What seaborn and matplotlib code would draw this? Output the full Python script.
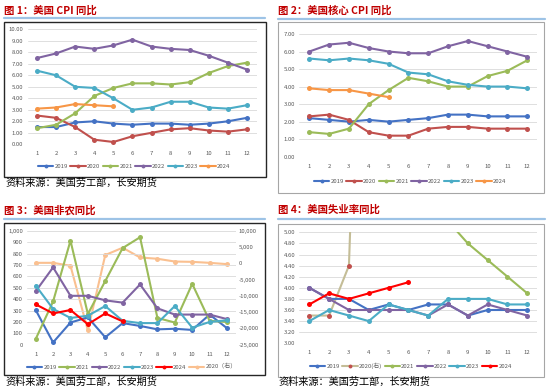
import numpy as np
import pandas as pd
import matplotlib
matplotlib.use('Agg')
import matplotlib.pyplot as plt
import seaborn as sns
from matplotlib.patches import Rectangle
from matplotlib.lines import Line2D
from matplotlib.ticker import FuncFormatter, MultipleLocator

sns.set_theme(style='white')
plt.rcParams['font.family'] = ['Noto Sans CJK SC', 'DejaVu Sans']

months = list(range(1, 13))

# Panel 1: CPI YoY
cpi_2019 = [1.5, 1.5, 1.9, 2.0, 1.8, 1.7, 1.8, 1.8, 1.7, 1.8, 2.0, 2.3]
cpi_2020 = [2.5, 2.3, 1.5, 0.4, 0.2, 0.7, 1.0, 1.3, 1.4, 1.2, 1.1, 1.3]
cpi_2021 = [1.4, 1.7, 2.7, 4.2, 4.9, 5.3, 5.3, 5.2, 5.4, 6.2, 6.8, 7.1]
cpi_2022 = [7.5, 7.9, 8.5, 8.3, 8.6, 9.1, 8.5, 8.3, 8.2, 7.7, 7.1, 6.5]
cpi_2023 = [6.4, 6.0, 5.0, 4.9, 4.0, 3.0, 3.2, 3.7, 3.7, 3.2, 3.1, 3.4]
cpi_2024 = [3.1, 3.2, 3.5, 3.4, 3.3]

# Panel 2: core CPI YoY
core_2019 = [2.2, 2.1, 2.0, 2.1, 2.0, 2.1, 2.2, 2.4, 2.4, 2.3, 2.3, 2.3]
core_2020 = [2.3, 2.4, 2.1, 1.4, 1.2, 1.2, 1.6, 1.7, 1.7, 1.6, 1.6, 1.6]
core_2021 = [1.4, 1.3, 1.6, 3.0, 3.8, 4.5, 4.3, 4.0, 4.0, 4.6, 4.9, 5.5]
core_2022 = [6.0, 6.4, 6.5, 6.2, 6.0, 5.9, 5.9, 6.3, 6.6, 6.3, 6.0, 5.7]
core_2023 = [5.6, 5.5, 5.6, 5.5, 5.3, 4.8, 4.7, 4.3, 4.1, 4.0, 4.0, 3.9]
core_2024 = [3.9, 3.8, 3.8, 3.6, 3.4]

# Panel 3: nonfarm payrolls (thousands); 2020 on right axis
nfp_2019 = [305, 20, 195, 240, 65, 190, 165, 135, 140, 130, 265, 145]
nfp_2021 = [50, 380, 915, 270, 560, 850, 945, 235, 195, 535, 210, 200]
nfp_2022 = [470, 680, 430, 430, 390, 370, 530, 320, 265, 265, 265, 225]
nfp_2023 = [520, 315, 235, 255, 340, 210, 190, 190, 340, 150, 200, 215]
nfp_2024 = [355, 275, 305, 180, 275, 205]
nfp_2020 = [200, 200, -700, -20600, 2600, 4850, 1850, 1450, 600, 500, 200, -200]

# Panel 4: unemployment rate
ur_2019 = [4.0, 3.8, 3.8, 3.6, 3.7, 3.6, 3.7, 3.7, 3.5, 3.6, 3.6, 3.6]
ur_2020 = [3.5, 3.5, 4.4, 14.8, 13.3, 11.1, 10.2, 8.4, 7.8, 6.9, 6.7, 6.7]
ur_2021 = [6.4, 6.2, 6.0, 6.1, 5.8, 5.9, 5.4, 5.2, 4.8, 4.5, 4.2, 3.9]
ur_2022 = [4.0, 3.8, 3.6, 3.6, 3.6, 3.6, 3.5, 3.7, 3.5, 3.7, 3.6, 3.5]
ur_2023 = [3.4, 3.6, 3.5, 3.4, 3.7, 3.6, 3.5, 3.8, 3.8, 3.8, 3.7, 3.7]
ur_2024 = [3.7, 3.9, 3.8, 3.9, 4.0, 4.1]

titles = ['图 1：美国 CPI 同比', '图 2：美国核心 CPI 同比', '图 3：美国非农同比', '图 4：美国失业率同比']
source = '资料来源：美国劳工部，长安期货'

C19, C20, C21, C22, C23, C24 = '#4472c4', '#c0504d', '#9bbb59', '#8064a2', '#4bacc6', '#f79646'

W, H = 550, 390
fig = plt.figure(figsize=(5.5, 3.9), dpi=100)
fig.patch.set_facecolor('white')


def fx(x):
    return x / W


def fy(y):
    return 1 - y / H


def make_axes(l, t, r, b):
    return fig.add_axes([l / W, 1 - b / H, (r - l) / W, (b - t) / H])


def frame(l, t, r, b, ec, lw):
    fig.add_artist(Rectangle((fx(l), fy(b)), (r - l) / W, (b - t) / H,
                             transform=fig.transFigure, fill=False, ec=ec, lw=lw))


def header(x0, x1, ytitle, yrule, text):
    fig.text(fx(x0), fy(ytitle), text, color='#c00000', fontsize=7.5,
             fontweight='bold', ha='left', va='center')
    fig.add_artist(Line2D([fx(x0), fx(x1)], [fy(yrule), fy(yrule)],
                          transform=fig.transFigure, color='#9dc3e6', lw=1.6))


def style_ax(ax, ylim, ystep, fmt):
    ax.set_xlim(0.5, 12.5)
    ax.set_ylim(*ylim)
    ax.set_xticks(months)
    ax.set_xticklabels([str(m) for m in months])
    ax.yaxis.set_major_locator(MultipleLocator(ystep))
    ax.yaxis.set_major_formatter(FuncFormatter(fmt))
    ax.grid(axis='y', color='#d9d9d9', lw=0.6)
    ax.grid(axis='x', visible=False)
    for s in ax.spines.values():
        s.set_visible(False)
    ax.tick_params(axis='both', length=0, labelsize=4.3, colors='#595959')
    ax.tick_params(axis='y', pad=3)
    ax.tick_params(axis='x', pad=5)
    ax.set_facecolor('none')
    ax.set_xlabel('')
    ax.set_ylabel('')


def draw(ax, vals, color, mfc=None, lw=1.5, ms=3.6):
    x = months[:len(vals)]
    sns.lineplot(x=x, y=vals, ax=ax, color=color, marker='o', markersize=ms,
                 markeredgewidth=0, markerfacecolor=mfc or color, linewidth=lw,
                 legend=False, errorbar=None)


def legend(items, cx, cy, fs=4.3):
    handles = [Line2D([0], [0], color=c, marker='o', markersize=2.8, markeredgewidth=0,
                      markerfacecolor=m or c, lw=1.5) for _, c, m in items]
    labels = [n for n, _, _ in items]
    fig.legend(handles, labels, loc='center', bbox_to_anchor=(fx(cx), fy(cy)),
               ncol=len(items), frameon=False, fontsize=fs, handlelength=2.6,
               columnspacing=0.4, handletextpad=0.2, labelcolor='#595959')


f2 = lambda v, p: f'{v:.2f}'
fc = lambda v, p: f'{v:,.0f}'

# ---------- Panel 1 ----------
header(4, 265, 10.7, 18.3, titles[0])
frame(4, 21.7, 265.7, 176.7, '#262626', 1.0)
ax1 = make_axes(27.5, 29.3, 256.5, 144.3)
for v, c in [(cpi_2019, C19), (cpi_2020, C20), (cpi_2021, C21), (cpi_2022, C22),
             (cpi_2023, C23), (cpi_2024, C24)]:
    draw(ax1, v, c)
style_ax(ax1, (0, 10), 1, f2)
legend([('2019', C19, None), ('2020', C20, None), ('2021', C21, None), ('2022', C22, None),
        ('2023', C23, None), ('2024', C24, None)], 134, 166.7)
fig.text(fx(5), fy(182.7), source, fontsize=7.3, color='#000000', ha='left', va='center')

# ---------- Panel 2 ----------
header(277.7, 545, 10.7, 19, titles[1])
frame(277.7, 21.7, 544, 192.7, '#a6a6a6', 0.8)
ax2 = make_axes(299.4, 34, 537.2, 156.7)
for v, c in [(core_2019, C19), (core_2020, C20), (core_2021, C21), (core_2022, C22),
             (core_2023, C23), (core_2024, C24)]:
    draw(ax2, v, c)
style_ax(ax2, (0, 7), 1, f2)
legend([('2019', C19, None), ('2020', C20, None), ('2021', C21, None), ('2022', C22, None),
        ('2023', C23, None), ('2024', C24, None)], 410, 181)

# ---------- Panel 3 ----------
header(4, 265, 210, 219, titles[2])
frame(4, 223.3, 265, 375, '#262626', 1.0)
ax3 = make_axes(27, 231, 235.7, 344.7)
ax3r = ax3.twinx()
draw(ax3r, nfp_2020, '#fac090')
for v, c in [(nfp_2019, C19), (nfp_2021, C21), (nfp_2022, C22), (nfp_2023, C23),
             (nfp_2024, '#ff0000')]:
    draw(ax3, v, c)
style_ax(ax3, (0, 1000), 100, fc)
ax3.set_zorder(ax3r.get_zorder() + 1)
ax3.patch.set_visible(False)
ax3r.set_ylim(-25000, 10000)
ax3r.yaxis.set_major_locator(MultipleLocator(5000))
ax3r.yaxis.set_major_formatter(FuncFormatter(fc))
for s in ax3r.spines.values():
    s.set_visible(False)
ax3r.grid(False)
ax3r.tick_params(axis='y', length=0, labelsize=4.3, colors='#595959', pad=2)
ax3r.set_ylabel('')
legend([('2019', C19, None), ('2021', C21, None), ('2022', C22, None), ('2023', C23, None),
        ('2024', '#ff0000', None), ('2020（右）', '#fac090', None)], 131.7, 366.7)
fig.text(fx(5), fy(382.3), source, fontsize=7.3, color='#000000', ha='left', va='center')

# ---------- Panel 4 ----------
header(277.7, 545, 210, 219, titles[3])
frame(277.7, 224.3, 544.3, 376.7, '#a6a6a6', 0.8)
ax4 = make_axes(299.4, 232.3, 537.2, 343.3)
draw(ax4, ur_2020, '#c4bd97', mfc=C20)
for v, c in [(ur_2019, C19), (ur_2021, C21), (ur_2022, C22), (ur_2023, C23),
             (ur_2024, '#ff0000')]:
    draw(ax4, v, c)
style_ax(ax4, (3.0, 5.0), 0.2, f2)
legend([('2019', C19, None), ('2020(右)', '#c4bd97', C20), ('2021', C21, None),
        ('2022', C22, None), ('2023', C23, None), ('2024', '#ff0000', None)], 410.8, 365.7)
fig.text(fx(278), fy(381.7), source, fontsize=7.3, color='#000000', ha='left', va='center')

fig.savefig('out.png', dpi=100, facecolor='white')
